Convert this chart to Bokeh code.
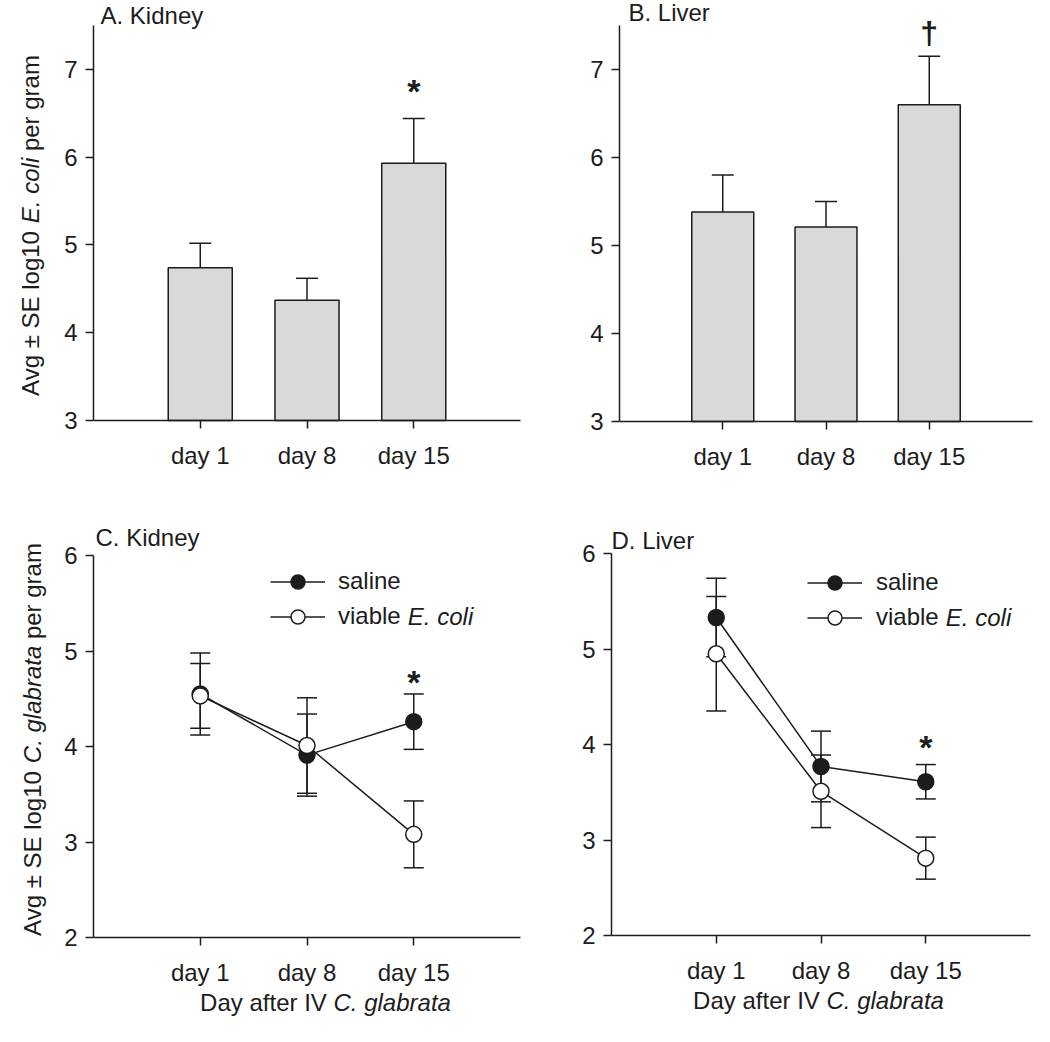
import math
from bokeh.plotting import figure
from bokeh.models import (Range1d, FixedTicker, Whisker, TeeHead, ColumnDataSource,
                          Label, Legend, LegendItem, LinearAxis)
from bokeh.layouts import column, row
from bokeh.embed import file_html
from bokeh.resources import INLINE

# ---------------- data ----------------
days = ["day 1", "day 8", "day 15"]
day_pos = [1, 2, 3]

# A. Kidney: log10 E. coli per gram (mean, SE)
kidney_ecoli_mean = [4.74, 4.37, 5.93]
kidney_ecoli_se = [0.28, 0.25, 0.51]
# B. Liver: log10 E. coli per gram
liver_ecoli_mean = [5.38, 5.21, 6.60]
liver_ecoli_se = [0.42, 0.29, 0.55]
# C. Kidney: log10 C. glabrata per gram
kidney_saline_mean = [4.55, 3.91, 4.26]
kidney_saline_se = [0.43, 0.43, 0.29]
kidney_viable_mean = [4.53, 4.01, 3.08]
kidney_viable_se = [0.34, 0.50, 0.35]
# D. Liver: log10 C. glabrata per gram
liver_saline_mean = [5.33, 3.77, 3.61]
liver_saline_se = [0.41, 0.37, 0.18]
liver_viable_mean = [4.95, 3.51, 2.81]
liver_viable_se = [0.60, 0.38, 0.22]

yticks_top = [3, 4, 5, 6, 7]
yticks_bottom = [2, 3, 4, 5, 6]

# significance marks: (symbol, day position, y value)
sig_A = ("*", 3, 6.84)
sig_B = ("\u2020", 3, 7.42)
sig_C = ("*", 3, 4.76)
sig_D = ("*", 3, 4.06)

# ---------------- style ----------------
FONT = "Liberation Sans"
FS = 24
INK = "#1c1c1c"
BAR = "#d9d9d9"

# Arial / Liberation Sans advance widths (1/1000 em)
AW = {" ": 278, "\u00b1": 584, ".": 278, "0": 556, "1": 556,
      "A": 667, "C": 722, "D": 722, "E": 667, "I": 278, "S": 667, "V": 667,
      "a": 556, "b": 556, "c": 500, "e": 556, "f": 278, "g": 556, "i": 222,
      "l": 222, "m": 833, "o": 556, "p": 556, "r": 333, "t": 278, "v": 500, "y": 500}


def tw(s, fs=FS):
    return sum(AW.get(ch, 556) for ch in s) * fs / 1000.0


def style_axis(ax):
    ax.axis_line_width = 1.5
    ax.axis_line_color = INK
    ax.major_tick_line_width = 1.5
    ax.major_tick_line_color = INK
    ax.major_tick_out = 8
    ax.major_tick_in = 0
    ax.minor_tick_out = 0
    ax.minor_tick_in = 0
    ax.major_label_text_font = FONT
    ax.major_label_text_font_size = f"{FS}px"
    ax.major_label_text_color = INK


def make_panel(fig_w, fig_h, fl, fr, ft, fb, y0, y1, yticks):
    """Whole canvas is the frame; axes are drawn at fixed locations inside it.
    fl/fr/ft/fb: pixel positions of the axes box inside the canvas."""
    x0, x1 = 0, 4
    sx = (x1 - x0) / (fr - fl)
    sy = (y1 - y0) / (fb - ft)
    xr = Range1d(x0 - fl * sx, x1 + (fig_w - fr) * sx)
    yr = Range1d(y0 - (fig_h - fb) * sy, y1 + ft * sy)
    p = figure(x_range=xr, y_range=yr, width=fig_w, height=fig_h,
               min_border=0, title=None,
               x_axis_location=None, y_axis_location=None,
               output_backend="svg", toolbar_location=None)
    p.outline_line_color = None
    p.grid.visible = False
    p.background_fill_color = "white"
    p.border_fill_color = "white"

    xaxis = LinearAxis(ticker=FixedTicker(ticks=day_pos, minor_ticks=[]),
                       fixed_location=y0, bounds=(x0, x1))
    style_axis(xaxis)
    xaxis.major_label_overrides = {d: lab for d, lab in zip(day_pos, days)}
    xaxis.major_label_standoff = 13
    p.add_layout(xaxis, "below")

    yaxis = LinearAxis(ticker=FixedTicker(ticks=yticks, minor_ticks=[]),
                       fixed_location=x0, bounds=(y0, y1))
    style_axis(yaxis)
    yaxis.major_label_standoff = 8
    p.add_layout(yaxis, "left")
    p._box = (fig_w, fig_h, fl, fr, ft, fb, x0, x1, y0, y1)
    return p


def add_label(p, text, x, y, dx=0, dy=0, align="left", style="normal",
              size=FS, angle=0.0):
    p.add_layout(Label(x=x, y=y, x_offset=dx, y_offset=dy, text=text,
                       text_font=FONT, text_font_size=f"{size}px",
                       text_font_style=style, text_color=INK,
                       text_align=align, text_baseline="middle", angle=angle))


def rich_text(p, parts, x, y, dx, dy, vertical=False):
    total = sum(tw(t) for t, _ in parts)
    cum = -total / 2.0
    for t, style in parts:
        lead = len(t) - len(t.lstrip(" "))
        start = cum + tw(" " * lead)
        txt = t.strip(" ")
        if vertical:
            add_label(p, txt, x, y, dx=dx, dy=dy + start, style=style,
                      angle=math.pi / 2)
        else:
            add_label(p, txt, x, y, dx=dx + start, dy=dy, style=style)
        cum += tw(t)


def bar_panel(p, mean, se, base):
    src = ColumnDataSource(dict(x=day_pos, top=mean,
                                upper=[m + s for m, s in zip(mean, se)],
                                lower=mean))
    p.add_layout(Whisker(source=src, base="x", upper="upper", lower="lower",
                         upper_head=TeeHead(size=22, line_width=1.5, line_color=INK),
                         lower_head=None, line_width=1.5, line_color=INK))
    p.vbar(x="x", top="top", bottom=base, width=0.6, source=src,
           fill_color=BAR, line_color=INK, line_width=1.5)


def line_panel(p, sm, ss, vm, vs):
    def src(m, s):
        return ColumnDataSource(dict(x=day_pos, y=m,
                                     upper=[a + b for a, b in zip(m, s)],
                                     lower=[a - b for a, b in zip(m, s)]))
    s_src, v_src = src(sm, ss), src(vm, vs)
    for sr in (s_src, v_src):
        p.add_layout(Whisker(source=sr, base="x", upper="upper", lower="lower",
                             upper_head=TeeHead(size=20, line_width=1.5, line_color=INK),
                             lower_head=TeeHead(size=20, line_width=1.5, line_color=INK),
                             line_width=1.5, line_color=INK))
    l1 = p.line("x", "y", source=s_src, line_color=INK, line_width=1.5)
    l2 = p.line("x", "y", source=v_src, line_color=INK, line_width=1.5)
    m1 = p.scatter("x", "y", source=s_src, marker="circle", size=16,
                   fill_color=INK, line_color=INK, line_width=1.5)
    m2 = p.scatter("x", "y", source=v_src, marker="circle", size=16,
                   fill_color="white", line_color=INK, line_width=1.5)
    return l1, m1, l2, m2


def add_legend(p, rends, gx, gy_top, standoff):
    """gx: legend glyph left, gy_top: legend top, both relative to axes box."""
    fig_w, fig_h, fl, fr, ft, fb, x0, x1, y0, y1 = p._box
    item_h, spacing = 35, -5
    leg_h = 2 * item_h + spacing
    loc = (fl + gx, fig_h - (ft + gy_top + leg_h))
    l1, m1, l2, m2 = rends
    leg = Legend(items=[LegendItem(label="saline", renderers=[l1, m1]),
                        LegendItem(label="viable", renderers=[l2, m2])],
                 location=loc, orientation="vertical",
                 glyph_width=55, glyph_height=item_h, label_height=item_h,
                 spacing=spacing, padding=0, margin=0, label_standoff=standoff,
                 border_line_color=None, background_fill_alpha=0,
                 label_text_font=FONT, label_text_font_size=f"{FS}px",
                 label_text_color=INK)
    p.add_layout(leg)
    # italic part of the second legend entry
    add_label(p, "E. coli", x0, y1,
              dx=gx + 55 + standoff + tw("viable "),
              dy=-(gy_top + item_h + spacing + item_h / 2.0), style="italic")


def sig(p, mark, size, dy):
    s, xpos, yv = mark
    add_label(p, s, xpos, yv, dy=dy, align="center", style="bold", size=size)


# ---------------- A ----------------
pA = make_panel(522, 490, 93, 520, 25, 420, 3, 7.5, yticks_top)
bar_panel(pA, kidney_ecoli_mean, kidney_ecoli_se, 3)
add_label(pA, "A. Kidney", 0, 7.5, dx=7, dy=10)
rich_text(pA, [("Avg \u00b1 SE log10 ", "normal"), ("E. coli", "italic"),
               (" per gram", "normal")], 0, 5.25, -63, -2.5, vertical=True)
sig(pA, sig_A, 34, -8)

# ---------------- B ----------------
pB = make_panel(512, 490, 97, 510, 25, 421, 3, 7.5, yticks_top)
bar_panel(pB, liver_ecoli_mean, liver_ecoli_se, 3)
add_label(pB, "B. Liver", 0, 7.5, dx=9, dy=13)
sig(pB, sig_B, 32, 0)

# ---------------- C ----------------
pC = make_panel(522, 536, 93, 520, 65, 447, 2, 6, yticks_bottom)
rC = line_panel(pC, kidney_saline_mean, kidney_saline_se,
                kidney_viable_mean, kidney_viable_se)
add_legend(pC, rC, 177, 13.5, 13)
add_label(pC, "C. Kidney", 0, 6, dx=2, dy=18)
rich_text(pC, [("Avg \u00b1 SE log10 ", "normal"), ("C. glabrata", "italic"),
               (" per gram", "normal")], 0, 4.0, -61, 7, vertical=True)
rich_text(pC, [("Day after IV ", "normal"), ("C. glabrata", "italic")],
          2, 2, 18.5, -65)
sig(pC, sig_C, 34, -8)

# ---------------- D ----------------
pD = make_panel(512, 536, 89, 508, 63, 445, 2, 6, yticks_bottom)
rD = line_panel(pD, liver_saline_mean, liver_saline_se,
                liver_viable_mean, liver_viable_se)
add_legend(pD, rD, 196, 16.5, 14)
add_label(pD, "D. Liver", 0, 6, dx=0, dy=13.5)
rich_text(pD, [("Day after IV ", "normal"), ("C. glabrata", "italic")],
          2, 2, -2.5, -65)
sig(pD, sig_D, 34, -8)

layout = column(row(pA, pB), row(pC, pD))
open("out.html", "w").write(file_html(layout, INLINE))
